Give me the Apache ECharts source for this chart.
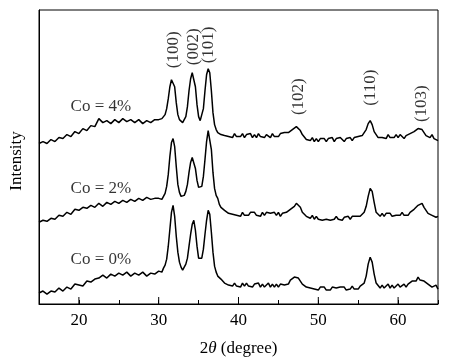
<!DOCTYPE html>
<html>
<head>
<meta charset="utf-8">
<script src="https://cdn.jsdelivr.net/npm/echarts@6/dist/echarts.min.js"></script>
<style>html,body{margin:0;padding:0;background:#fff}#c{width:462px;height:362px}</style>
</head>
<body>
<div id="c"></div>
<script>
// 2θ grid (degrees)
var twoTheta = [
15,15.5,16,16.5,17,17.5,18,18.5,19,19.5,20,20.5,21,21.5,22,22.5,23,23.5,24,24.5,25,25.5,26,26.5,27,27.5,28,28.5,29,29.5,
30,30.2,30.4,30.6,30.8, 31,31.2,31.4,31.6,31.8, 32,32.2,32.4,32.6,32.8, 33,33.2,33.4,33.6,33.8,
34,34.2,34.4,34.6,34.8, 35,35.2,35.4,35.6,35.8, 36,36.2,36.4,36.6,36.8, 37,37.2,37.4,37.6,37.8,
38,38.25,38.5,38.75, 39,39.25,39.5,39.75, 40,40.25,40.5,40.75, 41,41.25,41.5,41.75, 42,42.25,42.5,42.75,
43,43.25,43.5,43.75, 44,44.25,44.5,44.75, 45,45.25,45.5,45.75, 46,46.25,46.5,46.75, 47,47.25,47.5,47.75,
48,48.25,48.5,48.75, 49,49.25,49.5,49.75, 50,50.25,50.5,50.75, 51,51.25,51.5,51.75, 52,52.25,52.5,52.75,
53,53.25,53.5,53.75, 54,54.25,54.5,54.75, 55,55.25,55.5,55.75, 56,56.25,56.5,56.75, 57,57.25,57.5,57.75,
58,58.25,58.5,58.75, 59,59.25,59.5,59.75, 60,60.25,60.5,60.75, 61,61.25,61.5,61.75, 62,62.25,62.5,62.75,
63,63.25,63.5,63.75, 64,64.25,64.5,64.75, 65
];
// Intensity (arbitrary units, offsets as plotted)
var co0 = [
11,13,10,13,12,16,13,17,15,20,19,18,23,22,25,26,29,26,30,28,31,29,32,28,31,29,32,28,31,30,
33,35,32,36,39, 45,58,75,92,99, 88,68,52,42,37, 34,36,40,46,58,
70,80,84,74,58, 46,44,46,55,70, 84,94,90,72,52, 38,32,28,26,25,
24,21,22,19, 20,18,21,18, 20,17,21,18, 21,18,20,17, 20,18,21,17,
20,17,19,21, 17,20,17,20, 17,20,18,19, 21,20,24,25, 27,29,26,24,
20,19,17,18, 16,18,15,17, 14,17,15,17, 14,16,14,17, 15,16,14,17,
15,17,14,16, 15,18,15,17, 15,18,17,21, 28,40,47,42, 30,21,19,16,
19,16,18,20, 16,19,16,18, 20,17,16,20, 17,20,19,23, 25,23,27,24,
26,23,22,20, 20,17,16,19, 15
];
var co2 = [
82,84,83,86,85,89,88,92,90,95,94,97,96,99,97,101,98,102,100,103,101,104,102,105,103,106,104,107,105,106,
106,108,105,108,111, 118,130,148,162,166, 158,138,120,112,108, 107,109,113,120,132,
142,147,146,136,124, 117,115,118,128,145, 163,174,172,155,132, 116,109,106,100,97,
96,94,94,91, 93,90,91,89, 91,88,92,89, 91,89,92,90, 92,89,91,88,
92,89,92,90, 91,89,92,89, 92,88,91,90, 92,91,95,96, 98,101,99,97,
92,91,88,89, 86,89,85,88, 85,87,84,86, 85,87,84,86, 85,88,85,87,
84,87,85,88, 85,88,86,88, 87,88,89,92, 98,108,116,113, 102,92,91,88,
91,88,91,89, 91,88,90,89, 91,89,92,89, 91,89,92,91, 95,96,99,100,
101,97,95,91, 92,89,90,87, 88
];
var co4 = [
161,163,161,165,163,167,166,170,168,173,171,176,174,179,178,186,182,184,181,185,182,186,183,185,182,185,181,184,182,185,
185,183,186,187,190, 196,206,218,225,226, 218,202,190,185,184, 182,184,188,198,214,
226,232,230,218,200, 188,184,186,196,214, 230,236,232,214,192, 180,175,172,171,170,
171,169,170,168, 170,167,171,168, 170,168,171,167, 170,168,171,167, 170,167,171,168,
170,167,170,168, 167,171,168,170, 168,171,169,172, 170,172,172,175, 176,178,176,174,
170,168,165,166, 164,167,163,166, 163,166,164,166, 163,166,165,167, 163,166,164,167,
165,163,166,164, 167,164,167,166, 168,166,169,170, 175,181,184,180, 173,170,167,169,
167,169,166,170, 167,169,167,170, 167,170,168,166, 169,167,171,171, 173,175,176,178,
175,174,169,171, 167,170,166,167, 164
];
// Peak (hkl) labels: 2θ position and label height
var peakNames = ['(100)','(002)','(101)','(102)','(110)','(103)'];
var peakTheta = [31.9, 34.4, 36.25, 47.5, 56.5, 62.9];
var peakLabelY = [255, 258, 260, 208, 217, 201];
// Sample labels
var sampleNames = ['Co = 4%','Co = 2%','Co = 0%'];
var sampleTheta = [22.75, 22.75, 22.75];
var sampleY = [198, 116, 45];
// x axis major ticks
var majorTicks = [20, 30, 40, 50, 60];

var FONT = "'Liberation Serif','Times New Roman',serif";
function pairs(xs, ys){ return xs.map(function(x,i){ return [x, ys[i]]; }); }
function lineSeries(ys){
  return {type:'line', data: pairs(twoTheta, ys), showSymbol:false, symbol:'none',
    lineStyle:{color:'#000', width:1.5}, animation:false, z:3};
}

var chart = echarts.init(document.getElementById('c'), null, {renderer:'canvas'});
chart.setOption({
  animation:false,
  backgroundColor:'#fff',
  grid:{left:38, right:24, top:10, bottom:57, show:true, borderColor:'#000', borderWidth:1},
  xAxis:{type:'value', min:15, max:65, interval:5,
    axisLine:{show:true, lineStyle:{color:'#000', width:1}},
    axisTick:{show:true, inside:true, length:4, lineStyle:{color:'#000'}},
    splitLine:{show:false},
    axisLabel:{margin:8, color:'#000', fontFamily:FONT, fontSize:17,
      formatter:function(v){ return (v % 10 === 0 && v > 15 && v < 65) ? String(v) : ''; }},
    name:'2{i|θ} (degree)', nameLocation:'middle', nameGap:36,
    nameTextStyle:{color:'#000', fontFamily:FONT, fontSize:17,
      rich:{i:{fontStyle:'italic', fontFamily:FONT, fontSize:17, color:'#000'}}}
  },
  yAxis:{type:'value', min:0, max:295,
    axisLine:{show:true, lineStyle:{color:'#000', width:1}},
    axisTick:{show:false}, axisLabel:{show:false}, splitLine:{show:false},
    name:'Intensity', nameLocation:'middle', nameGap:14,
    nameTextStyle:{color:'#000', fontFamily:FONT, fontSize:17, padding:[0,8,0,0]}
  },
  series:[
    lineSeries(co0), lineSeries(co2), lineSeries(co4),
    {type:'custom', data: majorTicks.map(function(v){ return [v]; }), encode:{x:0},
      renderItem:function(params, api){
        var p = api.coord([api.value(0), 0]);
        return {type:'line', shape:{x1:p[0], y1:p[1], x2:p[0], y2:p[1]-7},
          style:{stroke:'#000', lineWidth:1}};
      }, z:4, silent:true},
    {type:'scatter', symbolSize:0, silent:true,
      data: peakNames.map(function(n,i){ return {value:[peakTheta[i], peakLabelY[i]], name:n}; }),
      label:{show:true, position:'inside', rotate:90, formatter:'{b}', color:'#000',
        fontFamily:FONT, fontSize:17}},
    {type:'scatter', symbolSize:0, silent:true,
      data: sampleNames.map(function(n,i){ return {value:[sampleTheta[i], sampleY[i]], name:n}; }),
      label:{show:true, position:'inside', formatter:'{b}', color:'#000',
        fontFamily:FONT, fontSize:17}}
  ]
});
</script>
</body>
</html>
